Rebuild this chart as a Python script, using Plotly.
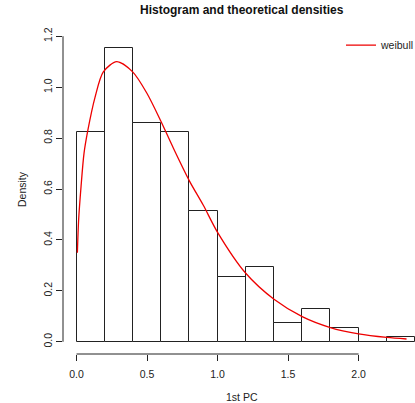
import plotly.graph_objects as go

# Histogram of the first principal component (density scale, bins of width 0.2)
bin_left = [0.0, 0.2, 0.4, 0.6, 0.8, 1.0, 1.2, 1.4, 1.6, 1.8, 2.0, 2.2]
bin_width = 0.2
density = [0.824, 1.154, 0.861, 0.824, 0.513, 0.256, 0.293, 0.073, 0.128, 0.055, 0.0, 0.018]

# Fitted Weibull density curve
curve_x = [0.006, 0.015, 0.032, 0.053, 0.08, 0.131, 0.19, 0.285, 0.398, 0.5, 0.6,
           0.687, 0.8, 0.9, 1.0, 1.2, 1.4, 1.6, 1.8, 2.0, 2.2, 2.34]
curve_y = [0.35, 0.48, 0.61, 0.74, 0.83, 0.96, 1.06, 1.10, 1.06, 0.975, 0.864,
           0.76, 0.632, 0.535, 0.43, 0.269, 0.167, 0.099, 0.056, 0.031, 0.017, 0.011]

x_ticks = [0.0, 0.5, 1.0, 1.5, 2.0]
x_tick_text = ["0.0", "0.5", "1.0", "1.5", "2.0"]
y_ticks = [0.0, 0.2, 0.4, 0.6, 0.8, 1.0, 1.2]
y_tick_text = ["0.0", "0.2", "0.4", "0.6", "0.8", "1.0", "1.2"]

FONT = "Liberation Sans, Arial, Helvetica, sans-serif"

# Margins in pixels
ML, MR, MT, MB = 63, 0, 24, 49
W, H = 415, 403
plot_w = W - ML - MR
plot_h = H - MT - MB

fig = go.Figure()

fig.add_trace(go.Bar(
    x=[b + bin_width / 2 for b in bin_left],
    y=density,
    width=bin_width,
    marker=dict(color="white", line=dict(color="#222222", width=1)),
    showlegend=False,
    hoverinfo="skip",
))

fig.add_trace(go.Scatter(
    x=curve_x, y=curve_y,
    mode="lines",
    line=dict(color="#ee0000", width=1.3, shape="spline", smoothing=0.8),
    name="weibull",
))

# R-style axis lines spanning only the tick range
fig.add_shape(type="line", xref="x", yref="paper",
              x0=min(x_ticks), x1=max(x_ticks), y0=0, y1=0,
              line=dict(color="#222222", width=1))
fig.add_shape(type="line", xref="paper", yref="y",
              x0=0, x1=0, y0=min(y_ticks), y1=max(y_ticks),
              line=dict(color="#222222", width=1))

fig.update_layout(
    width=W, height=H,
    margin=dict(l=ML, r=MR, t=MT, b=MB, autoexpand=False),
    paper_bgcolor="white", plot_bgcolor="white",
    font=dict(family=FONT, size=10.5, color="#222222"),
    bargap=0,
    showlegend=True,
    legend=dict(x=1.0 + 5 / plot_w, y=0.98, xanchor="right", yanchor="top",
                bgcolor="rgba(0,0,0,0)", font=dict(size=10.5)),
    xaxis=dict(range=[-0.096, 2.40], tickvals=x_ticks, ticktext=x_tick_text,
               ticks="outside", ticklen=6, tickcolor="#222222",
               ticklabelstandoff=4,
               showgrid=False, zeroline=False, showline=False),
    yaxis=dict(range=[-0.048, 1.248], tickvals=y_ticks, ticktext=y_tick_text,
               ticks="outside", ticklen=6, tickcolor="#222222", tickangle=-90,
               showgrid=False, zeroline=False, showline=False),
    annotations=[
        dict(text="<b>Histogram and theoretical densities</b>",
             x=(242 - ML) / plot_w, y=1 + (MT - 10) / plot_h,
             xanchor="center", yanchor="middle",
             xref="paper", yref="paper", showarrow=False,
             font=dict(size=12, color="#111111")),
        dict(text="1st PC", xref="paper", yref="paper",
             x=(242 - ML) / plot_w, y=0, xanchor="center", yanchor="middle",
             yshift=-(397 - (H - MB)), showarrow=False, font=dict(size=10.5)),
        dict(text="Density", xref="paper", yref="paper", x=0, y=0.5,
             xanchor="center", yanchor="middle",
             xshift=-(ML - 22), textangle=-90, showarrow=False,
             font=dict(size=10.5)),
    ],
)

fig.write_html("out.html")
